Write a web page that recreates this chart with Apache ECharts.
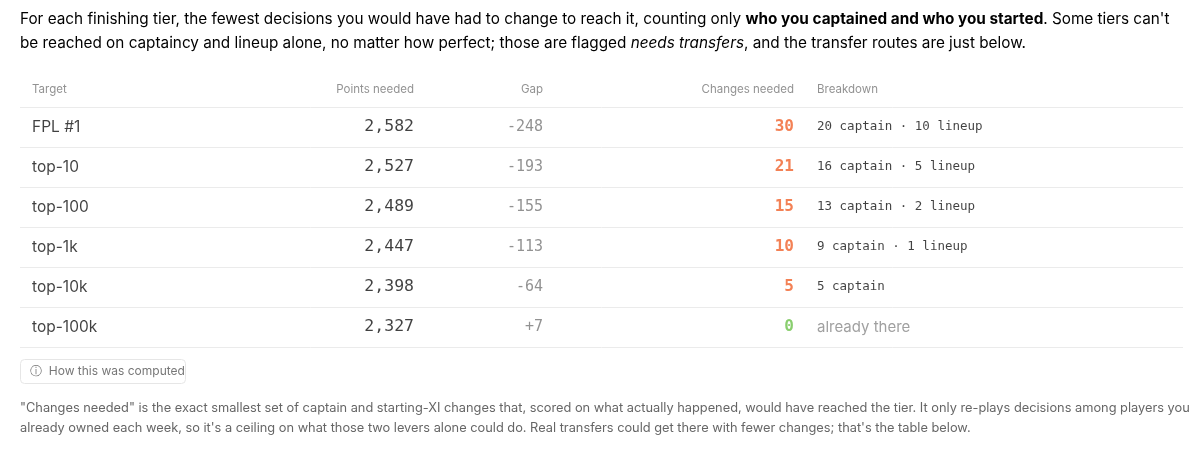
<!DOCTYPE html>
<html>
<head>
<meta charset="utf-8">
<script src="https://cdn.jsdelivr.net/npm/echarts@6/dist/echarts.min.js"></script>
</head>
<body style="margin:0;background:#fff">
<div id="c" style="width:1200px;height:455px"></div>
<script>
// table data
var rows = ['FPL #1', 'top-10', 'top-100', 'top-1k', 'top-10k', 'top-100k'];
var pointsNeeded = ['2,582', '2,527', '2,489', '2,447', '2,398', '2,327'];
var gaps = ['-248', '-193', '-155', '-113', '-64', '+7'];
var changes = [30, 21, 15, 10, 5, 0];
var breakdown = ['20 captain · 10 lineup', '16 captain · 5 lineup', '13 captain · 2 lineup',
  '9 captain · 1 lineup', '5 captain', 'already there'];
var headers = ['Target', 'Points needed', 'Gap', 'Changes needed', 'Breakdown'];

var SANS = 'Inter, "Noto Sans", sans-serif';
var MONO = '"DejaVu Sans Mono", monospace';
var cats = ['hdr'].concat(rows);

// column anchors (x in px) and alignment
var cols = [
  { x: 32, align: 'left' },
  { x: 414, align: 'right' },
  { x: 543, align: 'right' },
  { x: 794, align: 'right' },
  { x: 817, align: 'left' }
];

function cell(col, row, text, style) {
  return {
    value: [cols[col].x, row],
    label: Object.assign({ show: true, position: 'inside', formatter: String(text), align: cols[col].align }, style)
  };
}

var hdrData = headers.map(function (h, i) {
  return cell(i, 'hdr', h, { fontFamily: SANS, fontSize: 11.5, color: '#777', offset: [0, 3] });
});
var bodyData = [];
rows.forEach(function (r, i) {
  bodyData.push(cell(0, r, r, { fontFamily: SANS, fontSize: 15.5, color: '#111' }));
  bodyData.push(cell(1, r, pointsNeeded[i], { fontFamily: MONO, fontSize: 16.5, color: '#111' }));
  bodyData.push(cell(2, r, gaps[i], { fontFamily: MONO, fontSize: 15, color: '#777' }));
  bodyData.push(cell(3, r, changes[i], { fontFamily: MONO, fontSize: 16, fontWeight: 'bold', color: changes[i] === 0 ? '#6cc24a' : '#f0612a' }));
  if (changes[i] === 0)
    bodyData.push(cell(4, r, breakdown[i], { fontFamily: SANS, fontSize: 15, color: '#888' }));
  else
    bodyData.push(cell(4, r, breakdown[i], { fontFamily: MONO, fontSize: 12.5, color: '#111' }));
});

var chart = echarts.init(document.getElementById('c'));
chart.setOption({
  animation: false,
  grid: { left: 20, right: 17, top: 67, height: 280 },
  xAxis: { type: 'value', min: 20, max: 1183, show: false },
  yAxis: {
    type: 'category', data: cats, inverse: true,
    axisLine: { show: false }, axisTick: { show: false }, axisLabel: { show: false },
    splitLine: { show: true, interval: 0, lineStyle: { color: '#ebebeb', width: 1 } }
  },
  graphic: [
    { type: 'rect', left: 0, top: 66, shape: { width: 1200, height: 3 }, style: { fill: '#fff' }, z: 10 },
    {
      type: 'text', left: 20, top: 12,
      style: {
        text: '{n|For each finishing tier, the fewest decisions you would have had to change to reach it, counting only }{b|who you captained and who you started}{n|. Some tiers can\'t}\n{n|be reached on captaincy and lineup alone, no matter how perfect; those are flagged }{i|needs transfers}{n|, and the transfer routes are just below.}',
        rich: {
          n: { fontFamily: SANS, fontSize: 15.3, color: '#333', lineHeight: 24 },
          b: { fontFamily: SANS, fontSize: 15.3, fontWeight: 'bold', color: '#111', lineHeight: 24 },
          i: { fontFamily: SANS, fontSize: 15.3, fontStyle: 'italic', color: '#333', lineHeight: 24 }
        }
      }
    },
    {
      type: 'rect', left: 20, top: 359,
      shape: { width: 165, height: 24, r: 4 },
      style: { fill: '#fff', stroke: '#e6e6e6', lineWidth: 1 }
    },
    {
      type: 'text', left: 30, top: 365,
      style: { text: 'ⓘ  How this was computed', fontFamily: SANS, fontSize: 12, fill: '#777' }
    },
    {
      type: 'text', left: 20, top: 398,
      style: {
        text: '"Changes needed" is the exact smallest set of captain and starting-XI changes that, scored on what actually happened, would have reached the tier. It only re-plays decisions among players you\nalready owned each week, so it\'s a ceiling on what those two levers alone could do. Real transfers could get there with fewer changes; that\'s the table below.',
        fontFamily: SANS, fontSize: 12.8, fill: '#666', lineHeight: 20
      }
    }
  ],
  series: [{ type: 'scatter', symbolSize: 0, data: hdrData.concat(bodyData), silent: true }]
});
</script>
</body>
</html>
